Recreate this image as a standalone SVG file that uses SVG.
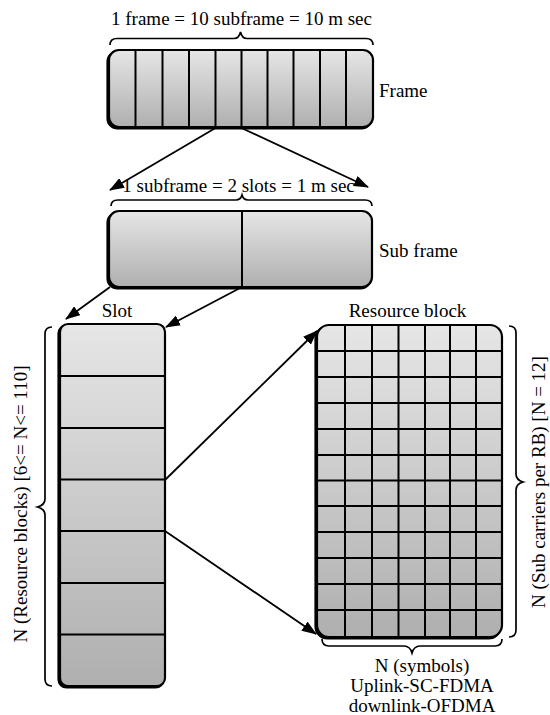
<svg xmlns="http://www.w3.org/2000/svg" width="550" height="715" viewBox="0 0 550 715">
<style>
.t{font-family:"Liberation Serif","Times New Roman",serif;font-size:19px;fill:#000}
.box{stroke:#000;stroke-width:2.2;fill:url(#g)}
.sh{fill:#000;stroke:#000;stroke-width:2.2}
.div{stroke:#000;stroke-width:2}
.br{fill:none;stroke:#000;stroke-width:1.7}
.con{stroke:#000;stroke-width:1.8;fill:none;marker-end:url(#ah)}
</style>
<defs>
<linearGradient id="g" x1="0" y1="0" x2="0" y2="1">
<stop offset="0" stop-color="#e6e6e6"/>
<stop offset="1" stop-color="#afafaf"/>
</linearGradient>
<marker id="ah" markerWidth="15" markerHeight="11" refX="14" refY="5.5" orient="auto" markerUnits="userSpaceOnUse">
<path d="M0,0 L15,5.5 L0,11 z" fill="#000"/>
</marker>
</defs>
<rect width="550" height="715" fill="#fff"/>

<g id="frame">
<rect class="sh" x="107.5" y="51.5" width="264" height="77" rx="10"/>
<rect class="box" x="109" y="50" width="264" height="77" rx="10"/>
<path class="div" d="M135.5,50V127M162.5,50V127M189,50V127M215.5,50V127M241.5,50V127M267.5,50V127M293.5,50V127M320,50V127M346,50V127"/>
<text class="t" x="379" y="97">Frame</text>
</g>

<g id="subframe">
<rect class="sh" x="107.5" y="212.5" width="263" height="76" rx="10"/>
<rect class="box" x="109" y="211" width="263" height="76" rx="10"/>
<path class="div" d="M242,211V287"/>
<text class="t" x="379" y="257">Sub frame</text>
</g>

<g id="slot">
<rect class="sh" x="58.5" y="325.5" width="105" height="362" rx="8"/>
<rect class="box" x="60" y="324" width="105" height="362" rx="8"/>
<path class="div" d="M60,376H165M60,428H165M60,479.5H165M60,531H165M60,583H165M60,634.5H165"/>
<text class="t" x="117" y="317" text-anchor="middle">Slot</text>
</g>

<g id="resource-block">
<rect class="sh" x="315.5" y="326.5" width="185" height="312" rx="12"/>
<rect class="box" x="317" y="325" width="185" height="312" rx="12"/>
<path class="div" d="M345,325V637M372,325V637M398.5,325V637M425,325V637M450,325V637M476,325V637"/>
<path class="div" d="M317,351H502M317,377H502M317,403H502M317,429H502M317,455H502M317,480.5H502M317,506H502M317,532H502M317,558H502M317,584H502M317,610H502"/>
<text class="t" x="407.5" y="317" text-anchor="middle">Resource block</text>
</g>

<g id="braces">
<path class="br" d="M110,45 Q110,38.5 117,38.5 L234,38.5 Q239,38.5 240.5,32 Q242,38.5 247,38.5 L366,38.5 Q373,38.5 373,45"/>
<path class="br" d="M111,206 Q111,200 118,200 L236,200 Q240.5,200 242,195 Q243.5,200 248,200 L365,200 Q372,200 372,206"/>
<path class="br" d="M52,327 Q45,327 45,334 L45,499 Q45,505 37.5,507 Q45,509 45,515 L45,679 Q45,686 52,686"/>
<path class="br" d="M509,326 Q516,326 516,333 L516,474 Q516,480 523,482 Q516,484 516,490 L516,630 Q516,637 509,637"/>
<path class="br" d="M322,639 Q322,646 329,646 L404,646 Q410,646 412,653 Q414,646 420,646 L495,646 Q502,646 502,639"/>
</g>

<g id="labels">
<text class="t" x="241.5" y="25" text-anchor="middle">1 frame = 10 subframe = 10 m sec</text>
<text class="t" x="238.5" y="192" text-anchor="middle">1 subframe = 2 slots = 1 m sec</text>
<text class="t" transform="translate(27,504) rotate(-90)" text-anchor="middle">N (Resource blocks) [6&lt;= N&lt;= 110]</text>
<text class="t" transform="translate(545,482) rotate(-90)" text-anchor="middle">N (Sub carriers per RB) [N = 12]</text>
<text class="t" x="422" y="672" text-anchor="middle">N (symbols)</text>
<text class="t" x="422" y="692" text-anchor="middle">Uplink-SC-FDMA</text>
<text class="t" x="422" y="712" text-anchor="middle">downlink-OFDMA</text>
</g>

<g id="connectors">
<path class="con" d="M215.5,128 L110,190"/>
<path class="con" d="M241.5,128 L368,187"/>
<path class="con" d="M110,287 L66,319"/>
<path class="con" d="M242,287 L166,327"/>
<path class="con" d="M165,480 L317,331"/>
<path class="con" d="M165,531 L316,634"/>
</g>
</svg>
